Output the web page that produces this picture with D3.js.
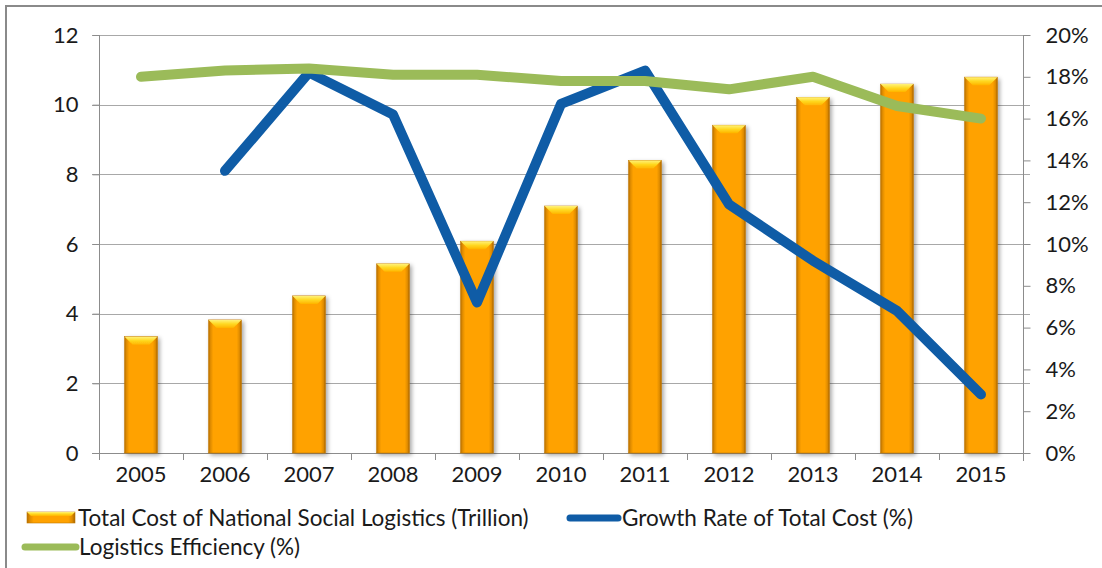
<!DOCTYPE html>
<html>
<head>
<meta charset="utf-8">
<script src="https://cdn.jsdelivr.net/npm/d3@7/dist/d3.min.js"></script>
<style>
  html, body { margin: 0; padding: 0; background: #ffffff; }
  svg { display: block; font-family: Lato, "Open Sans", sans-serif; }
</style>
</head>
<body>
<svg id="chart" width="1102" height="568"></svg>
<script>
// Categories and series
const years = ["2005","2006","2007","2008","2009","2010","2011","2012","2013","2014","2015"];
const totalCost = [3.34, 3.82, 4.51, 5.43, 6.08, 7.09, 8.40, 9.41, 10.21, 10.59, 10.79];
const growthRate = [null, 0.135, 0.182, 0.162, 0.072, 0.167, 0.183, 0.119, 0.092, 0.068, 0.028];
const efficiency = [0.180, 0.183, 0.184, 0.181, 0.181, 0.178, 0.178, 0.174, 0.180, 0.166, 0.160];
const leftTicks = [0, 2, 4, 6, 8, 10, 12];
const rightTicks = [0, 0.02, 0.04, 0.06, 0.08, 0.10, 0.12, 0.14, 0.16, 0.18, 0.20];
const seriesNames = ["Total Cost of National Social Logistics (Trillion)", "Growth Rate of Total Cost (%)", "Logistics Efficiency (%)"];

const svg = d3.select("#chart");
const plot = { left: 99, right: 1023, top: 35, bottom: 453 };
const gridColor = "#a8a8a8";
const axisColor = "#8c8c8c";
const textColor = "#1a1a1a";
const tickFont = 22;
const blue = "#0f5ca6";
const green = "#9bbb59";

// Outer chart frame
svg.append("rect")
  .attr("x", 6).attr("y", 6).attr("width", 1110).attr("height", 600)
  .attr("fill", "none").attr("stroke", "#8a8a8a").attr("stroke-width", 2);

const defs = svg.append("defs");
const bodyGrad = defs.append("linearGradient").attr("id", "barBody").attr("x1", 0).attr("x2", 1).attr("y1", 0).attr("y2", 0);
[[0, "#b86e00"], [0.06, "#e08c00"], [0.14, "#ffa200"], [0.86, "#ffa200"], [0.94, "#e08c00"], [1, "#a86400"]]
  .forEach(([o, c]) => bodyGrad.append("stop").attr("offset", o).attr("stop-color", c));
const bevelGrad = defs.append("linearGradient").attr("id", "barBevel").attr("x1", 0).attr("x2", 0).attr("y1", 0).attr("y2", 1);
[[0, "#fff27a"], [0.5, "#ffd820"], [1, "#ffb400"]]
  .forEach(([o, c]) => bevelGrad.append("stop").attr("offset", o).attr("stop-color", c));
const shadow = defs.append("filter").attr("id", "barShadow").attr("x", "-30%").attr("y", "-10%").attr("width", "170%").attr("height", "130%");
shadow.append("feDropShadow").attr("dx", 2).attr("dy", 2).attr("stdDeviation", 2).attr("flood-color", "#000").attr("flood-opacity", 0.35);

// Scales
const xCat = d3.scaleBand().domain(years).range([plot.left, plot.right]).padding(0);
const xBar = d3.scaleBand().domain(years).range([plot.left, plot.right]).paddingInner(0.61).paddingOuter(0.305);
const yLeft = d3.scaleLinear().domain([0, 12]).range([plot.bottom, plot.top]);
const yRight = d3.scaleLinear().domain([0, 0.20]).range([plot.bottom, plot.top]);
const cx = y => xCat(y) + xCat.bandwidth() / 2;

// Gridlines
svg.append("g").selectAll("line").data(leftTicks.filter(t => t > 0)).join("line")
  .attr("x1", plot.left - 7).attr("x2", plot.right + 7)
  .attr("y1", d => Math.round(yLeft(d)) + 0.5).attr("y2", d => Math.round(yLeft(d)) + 0.5)
  .attr("stroke", gridColor).attr("stroke-width", 1);

// Left axis
const leftAxis = svg.append("g").attr("transform", `translate(${plot.left + 0.5},0)`)
  .call(d3.axisLeft(yLeft).tickValues(leftTicks).tickSize(7).tickPadding(14).tickSizeOuter(0));
leftAxis.select(".domain").attr("stroke", axisColor).attr("d", `M0,${plot.top}V${plot.bottom + 7}`);
leftAxis.selectAll(".tick line").attr("stroke", axisColor);
leftAxis.selectAll(".tick text").attr("font-size", tickFont).attr("fill", textColor).attr("font-family", "Lato, sans-serif");

// Right axis
const rightAxis = svg.append("g").attr("transform", `translate(${plot.right + 0.5},0)`)
  .call(d3.axisRight(yRight).tickValues(rightTicks).tickFormat(d3.format(".0%")).tickSize(7).tickPadding(15).tickSizeOuter(0));
rightAxis.select(".domain").attr("stroke", axisColor).attr("d", `M0,${plot.top}V${plot.bottom + 8}`);
rightAxis.selectAll(".tick line").attr("stroke", axisColor);
rightAxis.selectAll(".tick text").attr("font-size", tickFont).attr("fill", textColor).attr("font-family", "Lato, sans-serif");

// Category axis
const xAxis = svg.append("g").attr("transform", `translate(0,${plot.bottom + 0.5})`)
  .call(d3.axisBottom(xCat).tickSize(0).tickPadding(13));
xAxis.select(".domain").attr("stroke", axisColor).attr("d", `M${plot.left - 7},0H${plot.right + 7}`);
xAxis.selectAll(".tick text").attr("font-size", tickFont).attr("fill", textColor).attr("font-family", "Lato, sans-serif");
svg.append("g").selectAll("line").data(d3.range(years.length + 1)).join("line")
  .attr("x1", i => Math.round(plot.left + i * xCat.step()) + 0.5)
  .attr("x2", i => Math.round(plot.left + i * xCat.step()) + 0.5)
  .attr("y1", plot.bottom).attr("y2", plot.bottom + 7)
  .attr("stroke", axisColor);

// Beveled bars
function drawBar(g, x, y, w, h, bevel) {
  g.append("rect").attr("x", x).attr("y", y).attr("width", w).attr("height", h)
    .attr("fill", "url(#barBody)").attr("stroke", "#c07800").attr("stroke-width", 0.6);
  const b = Math.min(bevel, h / 2);
  g.append("path")
    .attr("d", `M${x},${y}H${x + w}L${x + w - b},${y + b}H${x + b}Z`)
    .attr("fill", "url(#barBevel)");
}
const bars = svg.append("g").attr("filter", "url(#barShadow)");
years.forEach((yr, i) => {
  const g = bars.append("g");
  drawBar(g, xBar(yr), yLeft(totalCost[i]), xBar.bandwidth(), plot.bottom - yLeft(totalCost[i]), 8);
});

// Lines on the secondary axis
const lineGen = d3.line()
  .defined(d => d.v !== null)
  .x(d => cx(d.year))
  .y(d => yRight(d.v));
svg.append("path")
  .datum(years.map((year, i) => ({ year, v: growthRate[i] })))
  .attr("d", lineGen).attr("fill", "none").attr("stroke", blue)
  .attr("stroke-width", 10).attr("stroke-linecap", "round").attr("stroke-linejoin", "round");
svg.append("path")
  .datum(years.map((year, i) => ({ year, v: efficiency[i] })))
  .attr("d", lineGen).attr("fill", "none").attr("stroke", green)
  .attr("stroke-width", 10).attr("stroke-linecap", "round").attr("stroke-linejoin", "round");

// Legend
const legend = svg.append("g").attr("font-size", 22.5).attr("fill", textColor);
const lg0 = legend.append("g");
drawBar(lg0, 27, 512, 48, 11, 4);
lg0.append("text").attr("x", 78).attr("y", 526).text(seriesNames[0]);
const lg1 = legend.append("g");
lg1.append("line").attr("x1", 570).attr("x2", 618).attr("y1", 518).attr("y2", 518)
  .attr("stroke", blue).attr("stroke-width", 7).attr("stroke-linecap", "round");
lg1.append("text").attr("x", 622).attr("y", 526).text(seriesNames[1]);
const lg2 = legend.append("g");
lg2.append("line").attr("x1", 25).attr("x2", 76).attr("y1", 547).attr("y2", 547)
  .attr("stroke", green).attr("stroke-width", 7).attr("stroke-linecap", "round");
lg2.append("text").attr("x", 79).attr("y", 555).text(seriesNames[2]);
</script>
</body>
</html>
